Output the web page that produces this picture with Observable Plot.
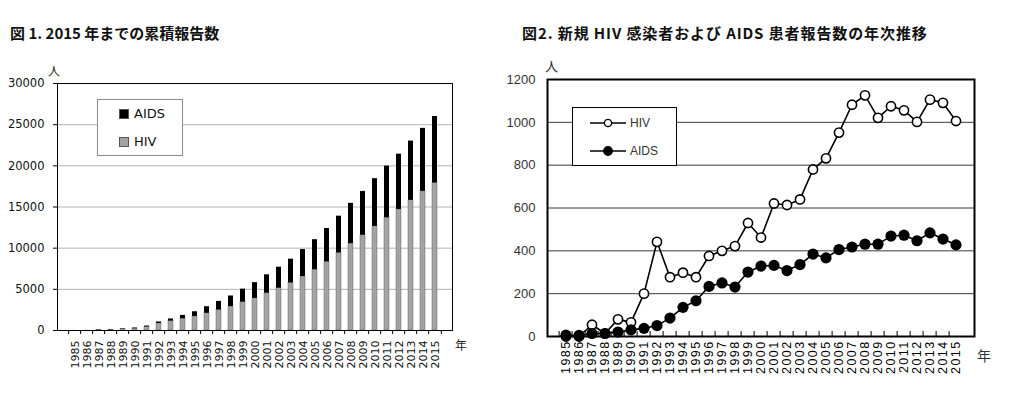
<!DOCTYPE html>
<html><head><meta charset="utf-8">
<script src="https://cdn.jsdelivr.net/npm/d3@7"></script>
<script src="https://cdn.jsdelivr.net/npm/@observablehq/plot@0.6"></script>
<style>
body{margin:0;background:#fff;}
#wrap{position:relative;width:1022px;height:407px;overflow:hidden;background:#fff;}
.abs{position:absolute;white-space:nowrap;}
.title{font-family:"Noto Sans CJK JP",sans-serif;font-weight:bold;font-size:15px;color:#111;line-height:20px;}
svg{position:absolute;top:0;}
</style></head><body><div id="wrap"></div>
<script>
// ---- data ----
const years = ["1985","1986","1987","1988","1989","1990","1991","1992","1993","1994","1995","1996","1997","1998","1999","2000","2001","2002","2003","2004","2005","2006","2007","2008","2009","2010","2011","2012","2013","2014","2015"];
// Fig.1 cumulative reports
const cumHIV = [0,0,55,69,149,215,415,857,1134,1432,1709,2085,2485,2907,3437,3899,4520,5134,5774,6554,7386,8338,9420,10546,11567,12642,13698,14700,15806,16897,17903];
const cumAIDS = [6,11,25,39,60,91,129,180,266,402,569,803,1053,1284,1585,1914,2246,2554,2890,3275,3642,4048,4466,4897,5328,5797,6270,6717,7201,7656,8084];
// Fig.2 annual new reports
const newHIV = [0,0,55,14,80,66,200,442,277,298,277,376,400,422,530,462,621,614,640,780,832,952,1082,1126,1021,1075,1056,1002,1106,1091,1006];
const newAIDS = [6,5,14,14,21,31,38,51,86,136,167,234,250,231,301,329,332,308,336,385,367,406,418,431,431,469,473,447,484,455,428];
const yTicksL = [0,5000,10000,15000,20000,25000,30000];
const yTicksR = [0,200,400,600,800,1000,1200];

const tableL = years.map((y,i)=>({year:y, hiv:cumHIV[i], total:cumHIV[i]+cumAIDS[i]}));
const tableR = years.map((y,i)=>({year:y, hiv:newHIV[i], aids:newAIDS[i]}));
const plain = d => String(d);

const wrap = document.getElementById("wrap");

// ---- left chart ----
const WL=505, mLl=57, mLr=53;
const stepL = (WL-mLl-mLr)/years.length;
const left = Plot.plot({
  width:WL, height:407, marginLeft:mLl, marginRight:mLr, marginTop:83, marginBottom:77,
  style:{fontFamily:"DejaVu Sans", fontSize:"10px", color:"#000", background:"transparent", overflow:"visible"},
  x:{type:"band", domain:years, paddingInner:0.58, paddingOuter:0.29, label:null},
  y:{domain:[0,30000], label:null},
  marks:[
    Plot.gridY(yTicksL,{stroke:"#b4b4b4", strokeOpacity:1}),
    Plot.barY(tableL,{x:"year", y1:0, y2:"hiv", fill:"#a3a3a3", stroke:"#6a6a6a", strokeWidth:0.5}),
    Plot.barY(tableL,{x:"year", y1:"hiv", y2:"total", fill:"#000"}),
    Plot.frame({stroke:"#000"}),
    Plot.axisY(yTicksL,{tickSize:4, tickPadding:9, fontSize:11.5, label:null, tickFormat:plain, fill:"#111"}),
    Plot.axisX({tickSize:4, tickFormat:()=>"", dx:-stepL/2, label:null}),
    Plot.axisX([years[years.length-1]],{tickSize:4, tickFormat:()=>"", dx:stepL/2, label:null}),
    Plot.axisX({tickSize:0, tickPadding:10, tickRotate:-90, fontSize:11, label:null, fill:"#111"})
  ]
});
left.style.left = "0px";
wrap.appendChild(left);

// ---- right chart ----
const WR=517, mRl=42, mRr=48;
const stepR = (WR-mRl-mRr)/years.length;
const right = Plot.plot({
  width:WR, height:407, marginLeft:mRl, marginRight:mRr, marginTop:79, marginBottom:71,
  style:{fontFamily:"Liberation Sans", fontSize:"12px", color:"#222", background:"transparent", overflow:"visible"},
  x:{type:"band", domain:years, padding:0, label:null},
  y:{domain:[0,1200], label:null},
  marks:[
    Plot.gridY(yTicksR,{stroke:"#3a3a3a", strokeOpacity:1}),
    Plot.frame({stroke:"#000", strokeWidth:2}),
    Plot.axisX({tickSize:5, dy:-5, tickFormat:()=>"", dx:-stepR/2, label:null, stroke:"#000"}),
    Plot.axisX({tickSize:0, tickPadding:4, tickRotate:-90, fontSize:12.5, label:null, fill:"#000"}),
    Plot.line(tableR,{x:"year", y:"hiv", stroke:"#000", strokeWidth:1.6}),
    Plot.line(tableR,{x:"year", y:"aids", stroke:"#000", strokeWidth:1.6}),
    Plot.dot(tableR,{x:"year", y:"hiv", r:4.6, fill:"#fff", stroke:"#000", strokeWidth:1.6}),
    Plot.dot(tableR,{x:"year", y:"aids", r:5.6, fill:"#000"}),
    Plot.axisY(yTicksR,{tickSize:0, tickPadding:12, fontSize:13, label:null, fill:"#333", tickFormat:plain})
  ]
});
right.style.left = "505px";
wrap.appendChild(right);
d3.select(right).selectAll('[aria-label="x-axis tick label"] text').attr("letter-spacing","1.4px");

// ---- titles, units, legends ----
function addDiv(html, css){ const d=document.createElement("div"); d.className="abs"; d.innerHTML=html; Object.assign(d.style, css); wrap.appendChild(d); return d; }
addDiv('<span class="title">図 1. 2015 年までの累積報告数</span>',{left:"10px",top:"23px"});
addDiv('<span class="title" style="letter-spacing:0.9px">図2. 新規 HIV 感染者および AIDS 患者報告数の年次推移</span>',{left:"522px",top:"23px"});
addDiv('人',{left:"48px",top:"63px",fontFamily:"Noto Sans CJK JP",fontSize:"12px",lineHeight:"16px",color:"#222"});
addDiv('年',{left:"455px",top:"337px",fontFamily:"Noto Sans CJK JP",fontSize:"12px",lineHeight:"16px",color:"#222"});
addDiv('人',{left:"545px",top:"58px",fontFamily:"Noto Sans CJK JP",fontSize:"13px",lineHeight:"16px",color:"#333"});
addDiv('年',{left:"977px",top:"346px",fontFamily:"Noto Sans CJK JP",fontSize:"14px",lineHeight:"18px",color:"#333"});

// left legend
const seriesL = [{name:"AIDS", color:"#000"},{name:"HIV", color:"#a3a3a3"}];
const lg = addDiv('',{left:"97px",top:"99px",width:"84px",height:"55px",border:"1px solid #8a8a8a",background:"#fff"});
seriesL.forEach((s,i)=>{
  const it=document.createElement("div");
  Object.assign(it.style,{position:"absolute",left:"21px",top:(6+i*28)+"px",fontFamily:"DejaVu Sans",fontSize:"13px",lineHeight:"16px",color:"#111",display:"flex",alignItems:"center"});
  it.innerHTML=`<span style="display:inline-block;width:8px;height:8px;background:${s.color};border:0.5px solid #555;margin-right:5px"></span>${s.name}`;
  lg.appendChild(it);
});
// right legend
const seriesR = [{name:"HIV", fill:"#fff", r:3.6},{name:"AIDS", fill:"#000", r:4.2}];
const rg = addDiv('',{left:"572px",top:"107px",width:"103px",height:"57px",border:"1px solid #000",background:"#fff"});
seriesR.forEach((s,i)=>{
  const it=document.createElement("div");
  Object.assign(it.style,{position:"absolute",left:"16px",top:(7+i*28)+"px",fontFamily:"Liberation Sans",fontSize:"12px",lineHeight:"16px",color:"#333",display:"flex",alignItems:"center"});
  it.innerHTML=`<svg width="38" height="14" style="position:static;margin-right:3px"><line x1="1" x2="37" y1="7" y2="7" stroke="#000" stroke-width="1.6"/><circle cx="19" cy="7" r="${s.r}" fill="${s.fill}" stroke="#000" stroke-width="1.4"/></svg>${s.name}`;
  rg.appendChild(it);
});
</script></body></html>
